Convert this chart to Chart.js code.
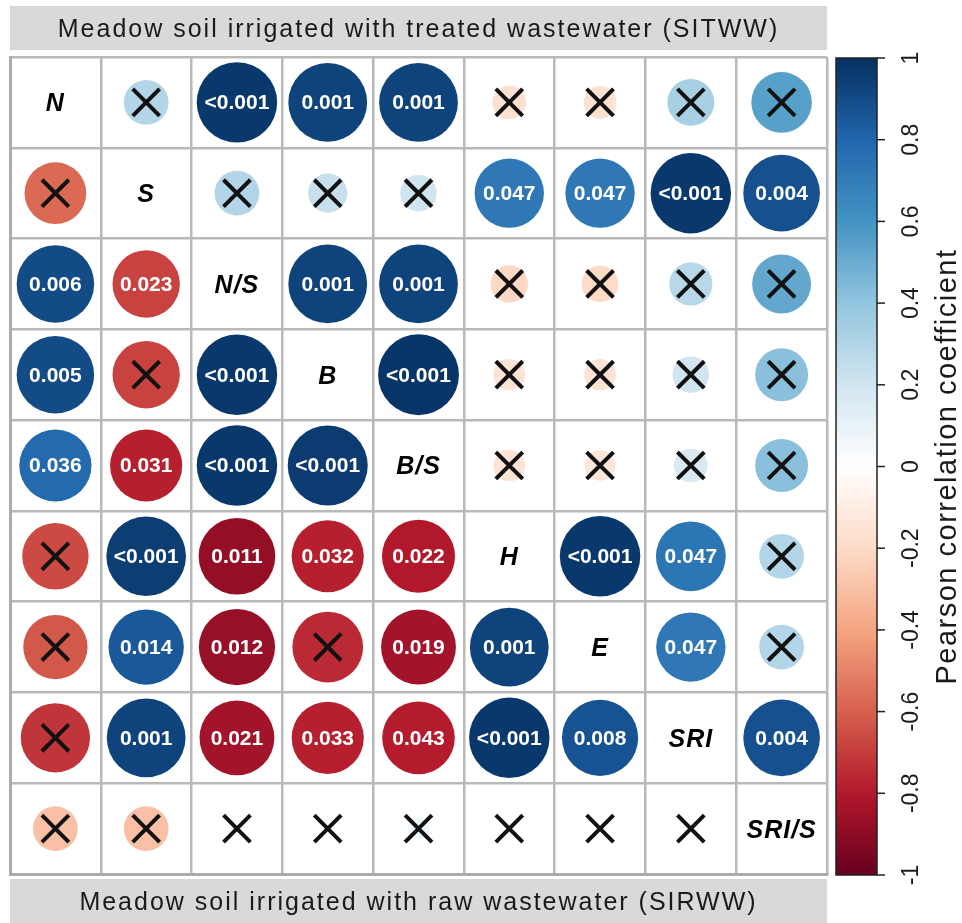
<!DOCTYPE html>
<html>
<head>
<meta charset="utf-8">
<script src="https://cdn.jsdelivr.net/npm/chart.js@4.4.1/dist/chart.umd.min.js"></script>
<style>
html, body { margin: 0; padding: 0; background: #fff; }
</style>
</head>
<body>
<canvas id="corrChart" width="962" height="923"></canvas>
<script>

const variables = ['N', 'S', 'N/S', 'B', 'B/S', 'H', 'E', 'SRI', 'SRI/S']

// upper triangle = SITWW, lower triangle = SIRWW
const rMatrix = [
    [ 1,     0.30,  0.97,  0.93,  0.93, -0.17, -0.16,  0.33,  0.55],
    [-0.57,  1,     0.30,  0.23,  0.20,  0.72,  0.72,  0.97,  0.88],
    [ 0.90, -0.68,  1,     0.93,  0.93, -0.21, -0.20,  0.28,  0.52],
    [ 0.90, -0.68,  0.97,  1,     0.98, -0.15, -0.15,  0.20,  0.42],
    [ 0.78, -0.78,  0.97,  0.96,  1,    -0.15, -0.14,  0.17,  0.42],
    [-0.66,  0.95, -0.88, -0.78, -0.80,  1,     0.97,  0.73,  0.30],
    [-0.62,  0.85, -0.87, -0.75, -0.84,  0.93,  1,     0.72,  0.30],
    [-0.72,  0.93, -0.84, -0.78, -0.79,  0.97,  0.87,  1,     0.88],
    [-0.30, -0.30, -0.01,  0.01,  0.07,  0.02, -0.02,  0.04,  1]
]

// '' = not significant (drawn as a cross)
const pMatrix = [
    ['', '', '<0.001', '0.001', '0.001', '', '', '', ''],
    ['', '', '', '', '', '0.047', '0.047', '<0.001', '0.004'],
    ['0.006', '0.023', '', '0.001', '0.001', '', '', '', ''],
    ['0.005', '', '<0.001', '', '<0.001', '', '', '', ''],
    ['0.036', '0.031', '<0.001', '<0.001', '', '', '', '', ''],
    ['', '<0.001', '0.011', '0.032', '0.022', '', '<0.001', '0.047', ''],
    ['', '0.014', '0.012', '', '0.019', '0.001', '', '0.047', ''],
    ['', '0.001', '0.021', '0.033', '0.043', '<0.001', '0.008', '', '0.004'],
    ['', '', '', '', '', '', '', '', '']
]

const colorbarTicks = [1, 0.8, 0.6, 0.4, 0.2, 0, -0.2, -0.4, -0.6, -0.8, -1]
const topTitle = 'Meadow soil irrigated with treated wastewater (SITWW)'
const bottomTitle = 'Meadow soil irrigated with raw wastewater (SIRWW)'
const legendTitle = 'Pearson correlation coefficient'

// RdBu palette from -1 to 1
const rdbu = ['#67001F', '#B2182B', '#D6604D', '#F4A582', '#FDDBC7', '#FFFFFF',
              '#D1E5F0', '#92C5DE', '#4393C3', '#2166AC', '#053061']

function hexToRgb(h) {
    return [parseInt(h.substr(1, 2), 16), parseInt(h.substr(3, 2), 16), parseInt(h.substr(5, 2), 16)]
}

function corrColor(v) {
    let t = (v + 1) / 2 * (rdbu.length - 1)
    let i = Math.min(Math.floor(t), rdbu.length - 2)
    let f = t - i
    let a = hexToRgb(rdbu[i]), b = hexToRgb(rdbu[i + 1])
    let c = a.map((x, k) => Math.round(x + (b[k] - x) * f))
    return 'rgb(' + c.join(',') + ')'
}

let circlePoints = []
let crossPoints = []
for (let i = 0; i < variables.length; i++) {
    for (let j = 0; j < variables.length; j++) {
        if (i === j) continue
        circlePoints.push({x: j + 0.5, y: i + 0.5, c: rMatrix[i][j]})
        if (pMatrix[i][j] === '') crossPoints.push({x: j + 0.5, y: i + 0.5})
    }
}

function cellSize(chart) {
    const xs = chart.scales.x
    return Math.abs(xs.getPixelForValue(1) - xs.getPixelForValue(0))
}

const framePlugin = {
    id: 'frame',
    beforeDraw(chart) {
        const ctx = chart.ctx
        const area = chart.chartArea
        ctx.save()
        ctx.fillStyle = '#fff'
        ctx.fillRect(0, 0, chart.width, chart.height)
        ctx.fillStyle = '#d9d9d9'
        ctx.fillRect(area.left, 6, area.right - area.left, 44)
        ctx.fillRect(area.left, area.bottom + 5, area.right - area.left, chart.height - area.bottom - 5)
        ctx.fillStyle = '#1a1a1a'
        ctx.font = '25px "Liberation Sans", Arial, sans-serif'
        ctx.letterSpacing = '2px'
        ctx.textAlign = 'center'
        ctx.textBaseline = 'middle'
        const cx = (area.left + area.right) / 2
        ctx.fillText(topTitle, cx, 30)
        ctx.fillText(bottomTitle, cx, area.bottom + 29)
        ctx.restore()
    },
    afterDraw(chart) {
        // colour key
        const ctx = chart.ctx
        const area = chart.chartArea
        const x0 = area.right + 9, w = 41
        const top = area.top + 1, bottom = area.bottom + 1
        const yOf = v => top + (1 - v) / 2 * (bottom - top)
        ctx.save()
        const grad = ctx.createLinearGradient(0, bottom, 0, top)
        rdbu.forEach((c, k) => grad.addColorStop(k / (rdbu.length - 1), c))
        ctx.fillStyle = grad
        ctx.fillRect(x0, top, w, bottom - top)
        ctx.strokeStyle = '#222'
        ctx.lineWidth = 1.5
        ctx.strokeRect(x0, top, w, bottom - top)
        ctx.fillStyle = '#1a1a1a'
        ctx.font = '23px "Liberation Sans", Arial, sans-serif'
        ctx.textAlign = 'center'
        ctx.textBaseline = 'middle'
        colorbarTicks.forEach(v => {
            const y = yOf(v)
            ctx.beginPath()
            ctx.moveTo(x0 + w, y)
            ctx.lineTo(x0 + w + 8, y)
            ctx.stroke()
            ctx.save()
            ctx.translate(x0 + w + 35, y)
            ctx.rotate(-Math.PI / 2)
            ctx.fillText(String(v), 0, 0)
            ctx.restore()
        })
        ctx.save()
        ctx.translate(948, (top + bottom) / 2)
        ctx.rotate(-Math.PI / 2)
        ctx.font = '29px "Liberation Sans", Arial, sans-serif'
        ctx.letterSpacing = '1.5px'
        ctx.fillText(legendTitle, 0, 0)
        ctx.restore()
        ctx.restore()
    }
}

const textPlugin = {
    id: 'corrText',
    afterDatasetsDraw(chart) {
        const ctx = chart.ctx
        const xs = chart.scales.x, ys = chart.scales.y
        ctx.save()
        ctx.textAlign = 'center'
        ctx.textBaseline = 'middle'
        for (let i = 0; i < variables.length; i++) {
            for (let j = 0; j < variables.length; j++) {
                const px = xs.getPixelForValue(j + 0.5)
                const py = ys.getPixelForValue(i + 0.5)
                if (i === j) {
                    ctx.fillStyle = '#000'
                    ctx.font = 'italic bold 25px "Liberation Sans", Arial, sans-serif'
                    ctx.letterSpacing = '1px'
                    ctx.fillText(variables[i], px, py + 2)
                } else if (pMatrix[i][j] !== '') {
                    ctx.fillStyle = '#fff'
                    ctx.font = 'bold 21px "Liberation Sans", Arial, sans-serif'
                    ctx.letterSpacing = '0px'
                    ctx.fillText(pMatrix[i][j], px, py + 1)
                }
            }
        }
        ctx.restore()
    }
}

const gridOpts = {color: '#b9b9b9', lineWidth: 2.5, drawTicks: false}

new Chart(document.getElementById('corrChart'), {
    type: 'scatter',
    data: {
        datasets: [{
            label: 'ns',
            order: 0,
            data: crossPoints,
            pointStyle: 'crossRot',
            pointRadius: 19,
            pointBorderWidth: 4,
            pointBorderColor: '#111',
            pointBackgroundColor: 'rgba(0,0,0,0)'
        }, {
            label: 'r',
            order: 1,
            data: circlePoints,
            pointRadius: ctx => cellSize(ctx.chart) * 0.45 * Math.sqrt(Math.abs(ctx.raw.c)),
            pointBackgroundColor: ctx => corrColor(ctx.raw.c),
            pointBorderWidth: 0,
            pointHoverRadius: 0
        }]
    },
    options: {
        responsive: false,
        animation: false,
        events: [],
        layout: {autoPadding: false, padding: {left: 10, right: 135, top: 57, bottom: 49}},
        plugins: {legend: {display: false}, tooltip: {enabled: false}},
        scales: {
            x: {
                type: 'linear', min: 0, max: 9,
                ticks: {stepSize: 1, display: false},
                grid: gridOpts,
                border: {display: true, color: '#ababab', width: 3},
                afterFit: s => { s.height = 0 }
            },
            y: {
                type: 'linear', min: 0, max: 9, reverse: true,
                ticks: {stepSize: 1, display: false},
                grid: gridOpts,
                border: {display: true, color: '#ababab', width: 3},
                afterFit: s => { s.width = 0 }
            }
        }
    },
    plugins: [framePlugin, textPlugin]
})
</script>
</body>
</html>
